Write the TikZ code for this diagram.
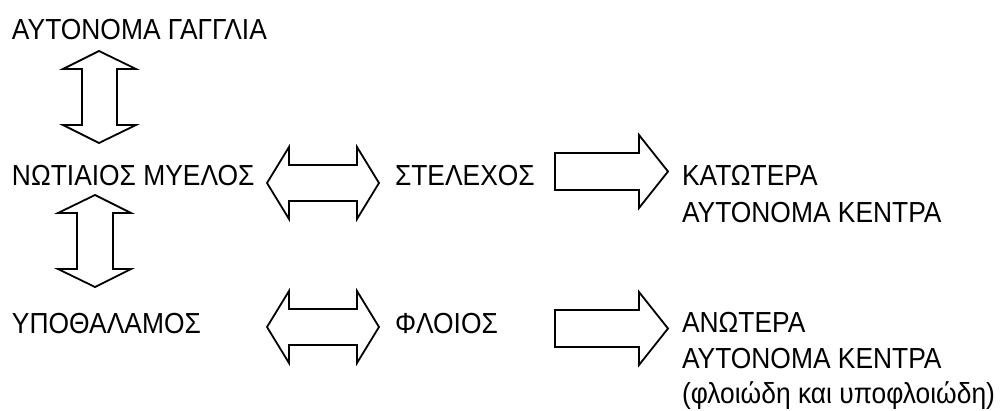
\documentclass[tikz,border=0pt]{standalone}
\usepackage{fontspec}
\setmainfont{Liberation Sans}[FakeStretch=0.91]
\begin{document}
\begin{tikzpicture}[x=1pt,y=-1pt,
  lbl/.style={anchor=base west,inner sep=0pt,outer sep=0pt,font=\fontsize{29}{37}\selectfont},
  blockarrow/.style={draw=black,line width=1.8pt,line join=miter,fill=white}]
\useasboundingbox (0,0) rectangle (1001,410);
% texts
\node[lbl] (gang) at (12,39) {ΑΥΤΟΝΟΜΑ ΓΑΓΓΛΙΑ};
\node[lbl] (nmy) at (12,185) {ΝΩΤΙΑΙΟΣ ΜΥΕΛΟΣ};
\node[lbl] (ypo) at (12,333) {ΥΠΟΘΑΛΑΜΟΣ};
\node[lbl] (ste) at (395,185) {ΣΤΕΛΕΧΟΣ};
\node[lbl] (flo) at (395,333) {ΦΛΟΙΟΣ};
\node[lbl] (kat) at (682,185) {ΚΑΤΩΤΕΡΑ};
\node[lbl] (katb) at (682,222) {ΑΥΤΟΝΟΜΑ ΚΕΝΤΡΑ};
\node[lbl] (anw) at (682,332) {ΑΝΩΤΕΡΑ};
\node[lbl] (anwb) at (682,368) {ΑΥΤΟΝΟΜΑ ΚΕΝΤΡΑ};
\node[lbl] (anwc) at (682,403) {(φλοιώδη και υποφλοιώδη)};
% vertical double arrows
\draw[blockarrow] (99,51) -- (136,69) -- (117,69) -- (117,125) -- (136,125) -- (99,143)
  -- (63,125) -- (82,125) -- (82,69) -- (63,69) -- cycle;
\draw[blockarrow] (95,195) -- (131,213) -- (113,213) -- (113,269) -- (131,269) -- (95,287)
  -- (58,269) -- (77,269) -- (77,213) -- (58,213) -- cycle;
% horizontal double arrows
\draw[blockarrow] (267,183) -- (289,147) -- (289,165) -- (357,165) -- (357,147) -- (379,183)
  -- (357,219) -- (357,201) -- (289,201) -- (289,219) -- cycle;
\draw[blockarrow] (267,327) -- (289,291) -- (289,309) -- (357,309) -- (357,291) -- (379,327)
  -- (357,363) -- (357,345) -- (289,345) -- (289,363) -- cycle;
% single arrows
\draw[blockarrow] (555,153) -- (639,153) -- (639,135) -- (668,171.5) -- (639,208) -- (639,190)
  -- (555,190) -- cycle;
\draw[blockarrow] (555,310) -- (639,310) -- (639,292) -- (668,328.5) -- (639,365) -- (639,347)
  -- (555,347) -- cycle;
\end{tikzpicture}
\end{document}
